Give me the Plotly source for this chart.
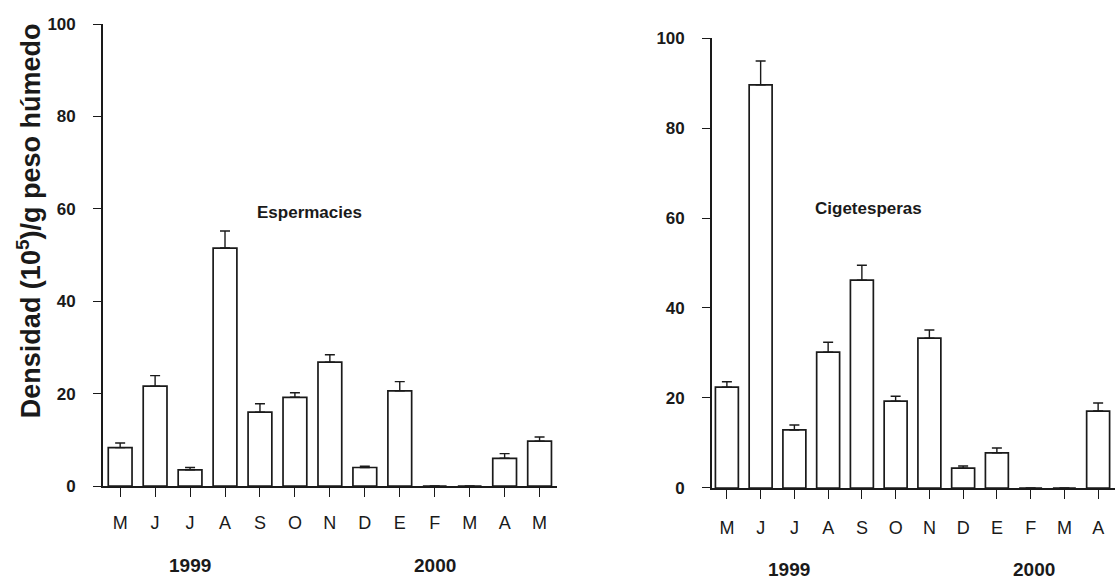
import plotly.graph_objects as go

# Monthly sampling, May 1999 - May 2000
meses_esp = ["M", "J", "J", "A", "S", "O", "N", "D", "E", "F", "M", "A", "M"]
esp_media = [8.3, 21.6, 3.5, 51.5, 16.0, 19.2, 26.8, 4.0, 20.6, 0, 0, 6.0, 9.7]
esp_error = [1.0, 2.3, 0.5, 3.7, 1.8, 1.0, 1.6, 0.3, 2.0, 0, 0, 1.0, 0.9]

meses_cig = ["M", "J", "J", "A", "S", "O", "N", "D", "E", "F", "M", "A"]
cig_media = [22.4, 89.6, 12.9, 30.2, 46.2, 19.3, 33.3, 4.4, 7.8, 0, 0, 17.1]
cig_error = [1.2, 5.3, 1.1, 2.2, 3.3, 1.1, 1.8, 0.5, 1.1, 0, 0, 1.8]

y_ticks = [0, 20, 40, 60, 80, 100]

FONT = "Liberation Sans, Arial, sans-serif"
INK = "#1a1a1a"

fig = go.Figure()

def add_bars(meses, media, error, xa, ya):
    fig.add_trace(go.Bar(
        x=list(range(len(meses))), y=media,
        marker=dict(color="white", line=dict(color=INK, width=1.7)),
        width=0.68,
        error_y=dict(type="data", symmetric=False, array=error,
                     arrayminus=[0] * len(error), color=INK,
                     thickness=1.4, width=5),
        xaxis=xa, yaxis=ya, showlegend=False,
    ))

add_bars(meses_esp, esp_media, esp_error, "x", "y")
add_bars(meses_cig, cig_media, cig_error, "x2", "y2")

def xaxis_cfg(meses, domain, rng, standoff):
    return dict(
        domain=domain, range=rng, automargin=False,
        tickmode="array", tickvals=list(range(len(meses))), ticktext=meses,
        ticks="outside", ticklen=9, tickwidth=1, tickcolor=INK,
        ticklabelstandoff=standoff,
        showline=True, linecolor=INK, linewidth=1.7,
        showgrid=False, zeroline=False,
        tickfont=dict(family=FONT, size=18, color=INK),
    )

def yaxis_cfg(domain, anchor):
    return dict(
        domain=domain, range=[0, 100], anchor=anchor, automargin=False,
        tickmode="array", tickvals=y_ticks,
        ticks="outside", ticklen=8, tickwidth=1.2, tickcolor=INK,
        ticklabelstandoff=14,
        showline=True, linecolor=INK, linewidth=1.7,
        showgrid=False, zeroline=False,
        tickfont=dict(family=FONT, size=17, color=INK, weight="bold"),
    )

fig.update_layout(
    width=1115, height=584,
    margin=dict(l=0, r=0, t=0, b=0, autoexpand=False),
    paper_bgcolor="white", plot_bgcolor="white",
    xaxis=xaxis_cfg(meses_esp, [0.0924, 0.4996], [-0.49, 12.5], 11) | dict(anchor="y"),
    yaxis=yaxis_cfg([0.1678, 0.9589], "x"),
    xaxis2=xaxis_cfg(meses_cig, [0.6386, 1.0], [-0.44, 11.5], 14) | dict(anchor="y2"),
    yaxis2=yaxis_cfg([0.1644, 0.9349], "x2"),
)

notes = [
    dict(text="Espermacies", x=5.43, y=59.3, xref="x", yref="y", size=17),
    dict(text="Cigetesperas", x=4.2, y=62.2, xref="x2", yref="y2", size=17),
    dict(text="1999", x=2.0, y=0.031, xref="x", yref="paper", size=19),
    dict(text="2000", x=9.0, y=0.031, xref="x", yref="paper", size=19),
    dict(text="1999", x=1.85, y=0.024, xref="x2", yref="paper", size=19),
    dict(text="2000", x=9.1, y=0.024, xref="x2", yref="paper", size=19),
]
for n in notes:
    fig.add_annotation(text=n["text"], x=n["x"], y=n["y"], xref=n["xref"], yref=n["yref"],
                       showarrow=False, xanchor="center", yanchor="middle",
                       font=dict(family=FONT, size=n["size"], color=INK, weight="bold"))

fig.add_annotation(text="Densidad (10<sup>5</sup>)/g peso húmedo",
                   x=0.026, y=0.623, xref="paper", yref="paper", textangle=-90,
                   showarrow=False, xanchor="center", yanchor="middle",
                   font=dict(family=FONT, size=27, color=INK, weight="bold"))

fig.write_html("out.html")
